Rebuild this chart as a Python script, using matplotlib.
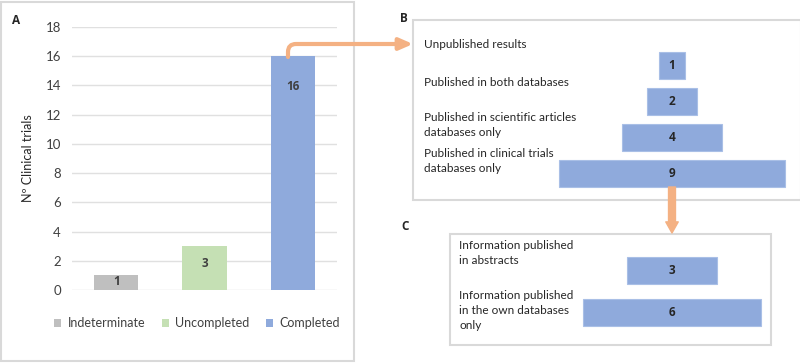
import matplotlib.pyplot as plt
from matplotlib.patches import Rectangle, FancyArrowPatch, Patch

plt.rcParams['font.family'] = ['Lato', 'DejaVu Sans']
BOLD = ['Open Sans', 'DejaVu Sans']

W, H = 800, 363

# panel A data
status = ["Indeterminate", "Uncompleted", "Completed"]
trials = [1, 3, 16]
status_colors = ["#BFBFBF", "#C5E0B4", "#8FAADC"]

# panel B data
pub_labels = ["Unpublished results", "Published in both databases",
              "Published in scientific articles\ndatabases only",
              "Published in clinical trials\ndatabases only"]
pub_counts = [1, 2, 4, 9]

# panel C data
info_labels = ["Information published\nin abstracts",
               "Information published\nin the own databases\nonly"]
info_counts = [3, 6]

BLUE = "#8FAADC"
ORANGE = "#F4B183"
BOX = "#D9D9D9"
TXT = "#262626"


def fx(x):
    return x / W


def fy(y):
    return 1 - y / H


def axes_px(x0, y0, x1, y1):
    return fig.add_axes([fx(x0), fy(y1), (x1 - x0) / W, (y1 - y0) / H])


fig = plt.figure(figsize=(8, 3.63), dpi=100)

# outer boxes
def box(x0, y0, x1, y1):
    fig.patches.append(Rectangle((fx(x0), fy(y1)), (x1 - x0) / W, (y1 - y0) / H,
                                 transform=fig.transFigure, fill=False,
                                 edgecolor=BOX, linewidth=1.5))

box(1, 2, 354, 361)
box(413, 20, 801, 200)
box(450, 234, 771, 345)

# ---- panel A ----
ax = axes_px(72, 27, 337, 290)
x = range(len(trials))
bars = ax.bar(x, trials, width=0.5, color=status_colors, zorder=3)
for xi, v in zip(x, trials):
    ax.text(xi, v - min(2.05, v * 0.4), str(v), ha="center", va="center",
            fontsize=8.5, fontweight="bold", family=BOLD, color="#404040", zorder=4)
ax.set_xlim(-0.5, 2.5)
ax.set_ylim(0, 18)
ax.set_yticks(range(0, 19, 2))
ax.set_xticks([])
ax.grid(axis="y", color="#E0E0E0", linewidth=1, zorder=0)
for s in ax.spines.values():
    s.set_visible(False)
ax.tick_params(axis="y", length=0, labelsize=9.5, labelcolor="#404040", pad=8)
ax.set_ylabel("Nº Clinical trials", fontsize=9, color="#262626", labelpad=8)
handles = [Patch(facecolor=c, label=l) for c, l in zip(status_colors, status)]
fig.legend(handles=handles, loc="center", bbox_to_anchor=(fx(197), fy(323)), ncol=3,
           frameon=False, fontsize=9, handlelength=0.6, handleheight=0.6,
           handletextpad=0.5, columnspacing=1.3, labelcolor="#404040")
fig.text(fx(16), fy(20), "A", fontsize=8.5, fontweight="bold", family=BOLD,
         ha="center", va="center", color=TXT)

# ---- panel B ----
axb = axes_px(413, 20, 800, 200)
yb = range(len(pub_counts))
axb.barh(yb, pub_counts, left=[-c / 2 for c in pub_counts], height=0.75,
         color=BLUE, edgecolor="#A9BFE6", linewidth=0.8)
for yi, c in zip(yb, pub_counts):
    axb.text(0, yi, str(c), ha="center", va="center", fontsize=8.5,
             fontweight="bold", family=BOLD, color="#262626")
axb.set_xlim(-10.28, 5.08)
axb.set_ylim(3.736, -1.264)
axb.axis("off")
for lab, y in zip(pub_labels, [44, 82, 112, 148]):
    fig.text(fx(424), fy(y), lab, fontsize=8.5, ha="left", va="center" if "\n" not in lab else "top",
             color=TXT, linespacing=1.45)
fig.text(fx(404), fy(19), "B", fontsize=8.5, fontweight="bold", family=BOLD,
         ha="center", va="center", color=TXT)

# ---- panel C ----
axc = axes_px(450, 234, 771, 345)
yc = range(len(info_counts))
axc.barh(yc, info_counts, left=[-c / 2 for c in info_counts], height=0.643,
         color=BLUE, edgecolor="#A9BFE6", linewidth=0.8)
for yi, c in zip(yc, info_counts):
    axc.text(0, yi, str(c), ha="center", va="center", fontsize=8.5,
             fontweight="bold", family=BOLD, color="#262626")
axc.set_xlim(-7.45, 3.32)
axc.set_ylim(1.774, -0.869)
axc.axis("off")
for lab, y in zip(info_labels, [240, 290]):
    fig.text(fx(459), fy(y), lab, fontsize=8.5, ha="left", va="top", color=TXT, linespacing=1.45)
fig.text(fx(405), fy(227), "C", fontsize=8.5, fontweight="bold", family=BOLD,
         ha="center", va="center", color=TXT)

# ---- connecting arrows ----
arr1 = FancyArrowPatch((fx(288), fy(57)), (fx(413), fy(44)), transform=fig.transFigure,
                       connectionstyle="angle,angleA=90,angleB=0,rad=8",
                       arrowstyle="-|>,head_length=8,head_width=3.5",
                       color=ORANGE, linewidth=3, shrinkA=0, shrinkB=0)
fig.patches.append(arr1)
arr2 = FancyArrowPatch((fx(672), fy(187)), (fx(672), fy(233)), transform=fig.transFigure,
                       arrowstyle="simple,head_length=0.8,head_width=0.9,tail_width=0.5",
                       mutation_scale=10, color=ORANGE, shrinkA=0, shrinkB=0)
fig.patches.append(arr2)

fig.savefig("out.png", dpi=100)
